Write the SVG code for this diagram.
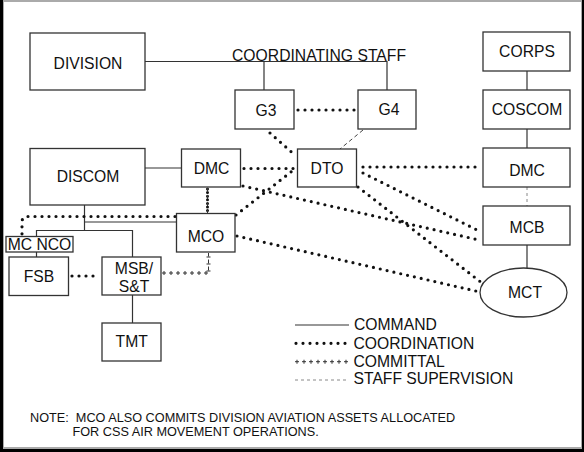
<svg xmlns="http://www.w3.org/2000/svg" width="584" height="452" viewBox="0 0 584 452">
<style>
.box{fill:#fff;stroke:#333;stroke-width:1.3}
.t{font-family:"Liberation Sans",Arial,sans-serif;font-size:15.7px;fill:#111;text-anchor:middle}
.lt{font-family:"Liberation Sans",Arial,sans-serif;font-size:15.7px;fill:#111}
.note{font-family:"Liberation Sans",Arial,sans-serif;font-size:12.7px;fill:#111;white-space:pre}
.cmd{fill:none;stroke:#333;stroke-width:1.2}
.coord{fill:none;stroke:#111;stroke-width:3.2;stroke-linecap:round;stroke-dasharray:0 7}
.dense{fill:none;stroke:#111;stroke-width:3;stroke-linecap:round;stroke-dasharray:0 3.6}
.comA{fill:none;stroke:#333;stroke-width:1;stroke-dasharray:4 3}
.comB{fill:none;stroke:#333;stroke-width:4;stroke-dasharray:1 6;stroke-dashoffset:5.5}
.staff{fill:none;stroke:#888;stroke-width:1;stroke-dasharray:3 3}
.staffd{fill:none;stroke:#444;stroke-width:1;stroke-dasharray:4 3}
</style>
<rect x="0" y="0" width="584" height="452" fill="#000"/>
<rect x="3" y="0" width="579" height="449" fill="#aaa"/>
<rect x="4" y="2" width="577" height="445" fill="#fff"/>

<g id="connectors">
  <!-- command -->
  <path class="cmd" d="M145,61.5 H387 V90"/>
  <path class="cmd" d="M264,61.5 V90"/>
  <path class="cmd" d="M527,71 V90"/>
  <path class="cmd" d="M527,129 V148"/>
  <path class="cmd" d="M527,245 V268"/>
  <path class="cmd" d="M145,168 H181"/>
  <path class="cmd" d="M84.5,205 V230.5"/>
  <path class="cmd" d="M36.5,237 V230.5 H132.5 V257"/>
  <path class="cmd" d="M36.5,252 V257"/>
  <path class="cmd" d="M84.5,222 H176"/>
  <path class="cmd" d="M132.5,295 V323"/>
  <!-- coordination -->
  <path class="coord" d="M298,110 H355"/>
  <path class="coord" d="M270,133 L296,156"/>
  <path class="coord" d="M244,168.5 H296"/>
  <path class="coord" d="M236,215 L296,168"/>
  <path class="coord" d="M243,186 L479,240"/>
  <path class="coord" d="M363,167 H476"/>
  <path class="coord" d="M363,173 L479,231"/>
  <path class="coord" d="M358,187 L482,283"/>
  <path class="coord" d="M237,236 L480,292"/>
  <path class="coord" d="M175,216.5 H27 Q22,217 22,222 V236"/>
  <path class="coord" d="M72,276 H100"/>
  <path class="dense" d="M207.5,189 V212"/>
  <!-- committal -->
  <path class="comA" d="M162,273 H208.5 V253"/>
  <path class="comB" d="M162,273 H208.5"/>
  <path class="comB" d="M208.5,273 V253"/>
  <path class="comA" d="M207.5,188 V213"/>
  <!-- staff supervision -->
  <path class="staffd" d="M363,130 L340,149"/>
  <path class="staff" d="M527,187 V206"/>
</g>

<g id="division"><rect class="box" x="30" y="33" width="115" height="57"/><text class="t" x="88" y="68.5">DIVISION</text></g>
<g id="coordinating-staff"><text class="lt" x="232" y="60.5" textLength="174">COORDINATING STAFF</text></g>
<g id="g3"><rect class="box" x="235" y="90" width="59" height="39"/><text class="t" x="266" y="115.5">G3</text></g>
<g id="g4"><rect class="box" x="358" y="90" width="58" height="39"/><text class="t" x="389" y="115">G4</text></g>
<g id="corps"><rect class="box" x="483" y="32" width="87" height="39"/><text class="t" x="527" y="57">CORPS</text></g>
<g id="coscom"><rect class="box" x="483" y="90" width="87" height="39"/><text class="t" x="527" y="114.5">COSCOM</text></g>
<g id="dmc-corps"><rect class="box" x="483" y="148" width="87" height="39"/><text class="t" x="527" y="175.5">DMC</text></g>
<g id="mcb"><rect class="box" x="483" y="206" width="87" height="39"/><text class="t" x="527" y="232.5">MCB</text></g>
<g id="mct"><ellipse class="box" cx="523.5" cy="292.5" rx="43.5" ry="24.5"/><text class="t" x="525" y="298">MCT</text></g>
<g id="dto"><rect class="box" x="297.5" y="149" width="59" height="38"/><text class="t" x="327" y="174">DTO</text></g>
<g id="dmc-div"><rect class="box" x="181.5" y="149" width="59" height="38"/><text class="t" x="211.5" y="174.3">DMC</text></g>
<g id="discom"><rect class="box" x="30" y="148.5" width="115" height="56.5"/><text class="t" x="88" y="181.7">DISCOM</text></g>
<g id="mco"><rect class="box" x="176.5" y="213.5" width="58.5" height="38.5"/><text class="t" x="206" y="241.5">MCO</text></g>
<g id="mc-nco"><rect class="box" x="6" y="236.5" width="67" height="15.5"/><text class="t" x="39.5" y="250">MC NCO</text></g>
<g id="fsb"><rect class="box" x="9" y="257" width="59.5" height="38.5"/><text class="t" x="39" y="282.3">FSB</text></g>
<g id="msb"><rect class="box" x="102" y="257" width="59" height="38"/><text class="t" x="134" y="274">MSB/</text><text class="t" x="134" y="292.3">S&amp;T</text></g>
<g id="tmt"><rect class="box" x="102" y="323" width="59" height="38"/><text class="t" x="131.7" y="347.3">TMT</text></g>

<g id="legend">
  <path class="cmd" d="M295,325 H349"/>
  <path class="coord" d="M296,343.3 H349"/>
  <path class="comA" d="M295,361.7 H349"/>
  <path class="comB" d="M295,361.7 H349"/>
  <path class="staff" d="M295,380 H349"/>
  <text class="lt" x="354" y="330">COMMAND</text>
  <text class="lt" x="353.5" y="348.7">COORDINATION</text>
  <text class="lt" x="353.5" y="366.7">COMMITTAL</text>
  <text class="lt" x="353.5" y="384.3">STAFF SUPERVISION</text>
</g>
<g id="note">
  <text class="note" x="30" y="421.7">NOTE:  MCO ALSO COMMITS DIVISION AVIATION ASSETS ALLOCATED</text>
  <text class="note" x="72.5" y="435.7">FOR CSS AIR MOVEMENT OPERATIONS.</text>
</g>
</svg>
